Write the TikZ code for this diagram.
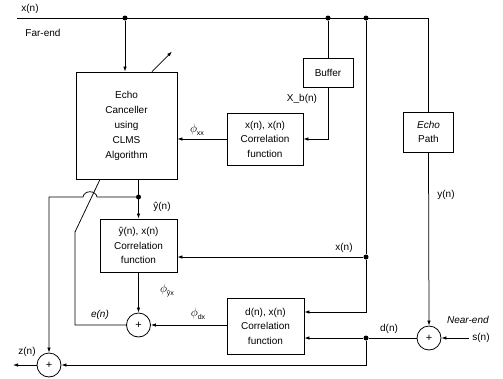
\documentclass[tikz,border=0pt]{standalone}
\usepackage{fontspec}
\setmainfont{Liberation Sans}
\usetikzlibrary{arrows.meta,positioning,calc}
\newcommand{\phiof}[1]{{\fontsize{12}{13}\selectfont$\phi$}\raisebox{-3pt}{\fontsize{7}{8}\selectfont #1}}

\begin{document}
\begin{tikzpicture}[x=1pt, y=-1pt,
  font=\fontsize{10}{14.5}\selectfont,
  blk/.style={draw, line width=0.8pt, align=center, inner sep=0pt},
  sum/.style={draw, circle, line width=0.8pt, minimum size=24pt, inner sep=0pt, font=\fontsize{11}{12}\selectfont},
  dot/.style={circle, fill, inner sep=0pt, minimum size=5pt},
  ln/.style={line width=0.75pt},
  ar/.style={ln, -{Latex[length=5pt,width=3.5pt]}}
]
\useasboundingbox (0,0) rectangle (503,378);
% blocks
\node[blk, minimum width=101pt, minimum height=107pt, font=\fontsize{10}{15}\selectfont] (ec) at (126.5,125.5) {Echo\\Canceller\\using\\CLMS\\Algorithm};
\node[blk, minimum width=76pt, minimum height=52pt] (cxx) at (265,139) {x(n), x(n)\\Correlation\\function};
\node[blk, minimum width=50pt, minimum height=29pt] (buf) at (328,72.5) {Buffer};
\node[blk, minimum width=50pt, minimum height=40pt] (ep) at (428.5,132) {\textit{Echo}\\Path};
\node[blk, minimum width=77pt, minimum height=53pt] (cyx) at (138.5,245.5) {ŷ(n), x(n)\\Correlation\\function};
\node[blk, minimum width=77pt, minimum height=56pt] (cdx) at (265.5,326) {d(n), x(n)\\Correlation\\function};
% adders
\node[sum] (s1) at (138.5,325) {+};
\node[sum] (s2) at (49,365) {+};
\node[sum] (s3) at (429,338) {+};
% junctions
\foreach \n/\px/\py in {d1/125/18, d2/328/18, d3/366/18, d4/138.5/197, d5/366/257, d6/366/338}
  \node[dot] (\n) at (\px,\py) {};
\coordinate (xin) at (17,18);
\coordinate (zout) at (13,365);
\node (sn) at (481,338) {s(n)};
% signal paths
\draw[ln] (xin) -| (ep.north);
\draw[ar] (d1) -- (d1 |- ec.north);
\draw[ln] (d2) -- (buf.north);
\draw[ar] (buf.south) |- (cxx.east);
\draw[ar] (cxx.west) -- (cxx.west -| ec.east);
\draw[ar] (ep.south) -- (s3.north);
\draw[ar] (sn.west) -- (s3.east);
\draw[ln] (d3) -- (d5);
\draw[ar] (d5) -- (d5 -| cyx.east);
\draw[ar] (d5) |- ($(cdx.east)+(0,-14)$);
\draw[ar] (s3.west) -- (d6) -- (d6 -| cdx.east);
\draw[ar] (d6) |- (s2.east);
\draw[ar] (s2.west) -- (zout);
\draw[ar] (ec.south -| d4) -- (cyx.north);
\draw[ar] (d4) -- (97,197) .. controls (96,190) and (84,190) .. (83,197) -| (s2.north);
\draw[ar] (cyx.south) -- (s1.north);
\draw[ar] (cdx.west |- s1.east) -- (s1.east);
\draw[ln] (s1.west) -- (75,325) -- (75,232) -- ($(ec.south west)!0.24!(ec.south east)$);
\draw[ar] ($(ec.north west)!0.75!(ec.north east)$) -- ++(20,-20);
% labels
\node at (30,9) {x(n)};
\node at (43,33) {Far-end};
\node at (302,99) {X\_b(n)};
\node at (197,130) {\phiof{xx}};
\node at (162,207) {ŷ(n)};
\node at (446,195) {y(n)};
\node at (344,248) {x(n)};
\node at (167,291) {\phiof{ŷx}};
\node at (198,314) {\phiof{dx}};
\node at (100,315) {\textit{e(n)}};
\node at (27,352) {z(n)};
\node at (389,329) {d(n)};
\node at (468,320) {\textit{Near-end}};
\end{tikzpicture}
\end{document}
